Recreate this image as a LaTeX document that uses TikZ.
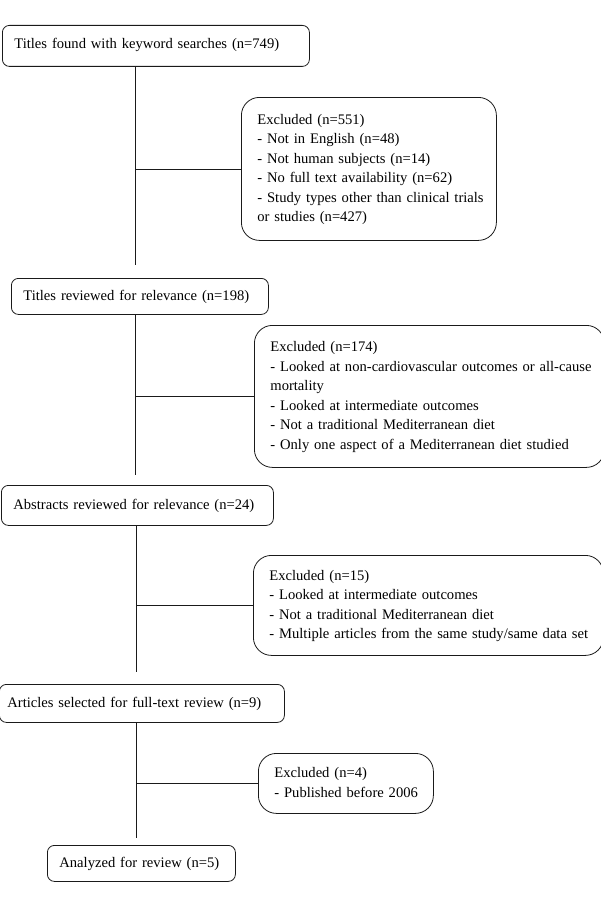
\documentclass[tikz,border=0pt]{standalone}
\usepackage{fontspec}
\setmainfont{Liberation Serif}
\usepackage{tikz}
\usetikzlibrary{positioning,calc}
\definecolor{flowInk}{HTML}{1A1A1A}
\newcommand{\boxlines}[1]{\begin{tabular}{@{}l@{}}#1\end{tabular}}
\tikzset{
    every picture/.style={font=\fontsize{14.6}{19.5}\selectfont},
    stagebox/.style={draw=flowInk, line width=0.8pt, rounded corners=7pt, anchor=north west, align=left, inner xsep=12pt, inner ysep=0pt, text=black},
    exclbox/.style={draw=flowInk, line width=0.8pt, rounded corners=18pt, anchor=north west, align=left, inner xsep=16pt, inner ysep=0pt, text=black},
    link/.style={line width=0.8pt, draw=flowInk}
}
\begin{document}
\begin{tikzpicture}[x=1pt,y=-1pt]
\useasboundingbox (0,0) rectangle (600,907);
% stages
\node[stagebox, text width=283pt, minimum height=41pt] (titles) at (2,25) {\boxlines{Titles found with keyword searches (n=749)\\[3pt]}};
\node[stagebox, text width=233pt, minimum height=36pt] (reviewed) at (11,278) {\boxlines{Titles reviewed for relevance (n=198)}};
\node[stagebox, text width=248pt, minimum height=40pt] (abstracts) at (1,485) {\boxlines{Abstracts reviewed for relevance (n=24)}};
\node[stagebox, inner xsep=8pt, text width=269pt, minimum height=38pt] (articles) at (-1,684) {\boxlines{Articles selected for full-text review (n=9)}};
\node[stagebox, text width=164pt, minimum height=36pt] (analyzed) at (47,845) {\boxlines{Analyzed for review (n=5)}};
% exclusions
\node[exclbox, text width=223pt, minimum height=143pt] (excl1) at (241,97) {\boxlines{Excluded (n=551)\\- Not in English (n=48)\\- Not human subjects (n=14)\\- No full text availability (n=62)\\- Study types other than clinical trials\\or studies (n=427)}};
\node[exclbox, text width=318pt, minimum height=142pt] (excl2) at (254,325) {\boxlines{Excluded (n=174)\\- Looked at non-cardiovascular outcomes or all-cause\\mortality\\- Looked at intermediate outcomes\\- Not a traditional Mediterranean diet\\- Only one aspect of a Mediterranean diet studied}};
\node[exclbox, text width=318pt, minimum height=100pt] (excl3) at (253,555) {\boxlines{Excluded (n=15)\\- Looked at intermediate outcomes\\- Not a traditional Mediterranean diet\\- Multiple articles from the same study/same data set}};
\node[exclbox, text width=143pt, minimum height=60pt] (excl4) at (258,753) {\boxlines{Excluded (n=4)\\- Published before 2006}};
% stems
\coordinate (stem1) at (135,265);
\coordinate (stem2) at (135,475);
\coordinate (stem3) at (136,672);
\coordinate (stem4) at (136,838);
\draw[link] (titles.south -| stem1) -- (stem1);
\draw[link] (reviewed.south -| stem2) -- (stem2);
\draw[link] (abstracts.south -| stem3) -- (stem3);
\draw[link] (articles.south -| stem4) -- (stem4);
\draw[link] (stem1 |- excl1.west) -- (excl1.west);
\draw[link] (stem2 |- excl2.west) -- (excl2.west);
\draw[link] (stem3 |- excl3.west) -- (excl3.west);
\draw[link] (stem4 |- excl4.west) -- (excl4.west);
\end{tikzpicture}
\end{document}
